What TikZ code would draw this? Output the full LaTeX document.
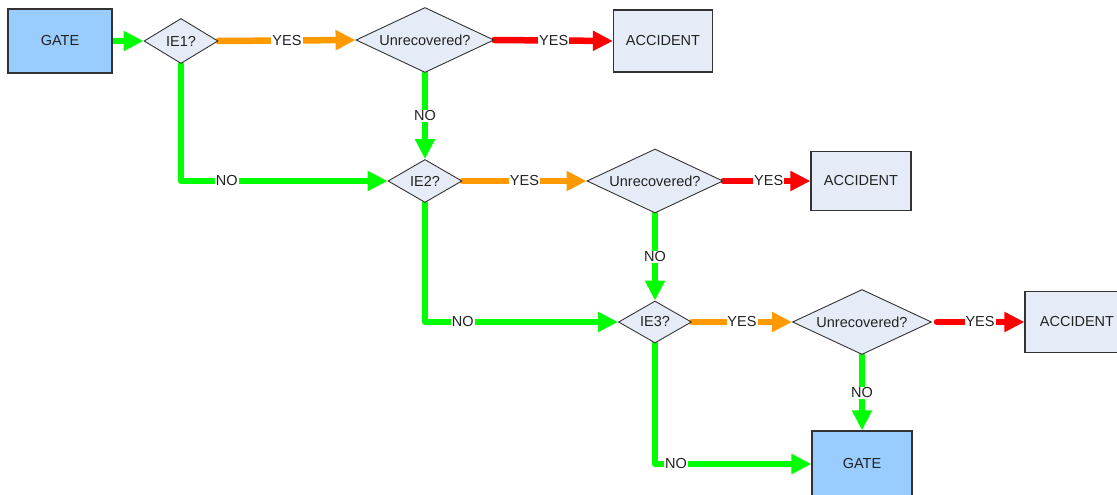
\documentclass[tikz,border=0pt]{standalone}
\usepackage{fontspec}
\setmainfont{Liberation Sans}
\usetikzlibrary{shapes.geometric,arrows.meta,backgrounds}
\definecolor{boxline}{HTML}{333333}
\definecolor{gatefill}{HTML}{99CCFF}
\definecolor{qfill}{HTML}{E6ECF7}
\definecolor{gogreen}{HTML}{00FF00}
\definecolor{warnorange}{HTML}{FF9900}
\definecolor{stopred}{HTML}{FF0000}
\definecolor{ink}{HTML}{222222}
\begin{document}
\begin{tikzpicture}[x=1pt,y=-1pt,
  font=\fontsize{14.5}{16}\selectfont,
  every node/.style={text=ink},
  gatebox/.style={draw=boxline,line width=1.2pt,fill=gatefill,inner sep=0pt},
  accbox/.style={draw=boxline,line width=1.2pt,fill=qfill,inner sep=0pt},
  question/.style={diamond,draw=boxline,line width=0.9pt,fill=qfill,inner sep=0pt,aspect=2},
  flow/.style={line width=6.5pt,line cap=round,line join=round,-{Triangle[length=20pt,width=19pt]}},
  nopath/.style={flow,draw=gogreen},
  yespath/.style={flow,draw=warnorange},
  failpath/.style={flow,draw=stopred},
  tag/.style={fill=white,inner sep=1pt}
]
\useasboundingbox (0,0) rectangle (1117,495);
\clip (0,0) rectangle (1117,495);

% entry gate
\node[gatebox,minimum width=104pt,minimum height=64pt] (gate1) at (60,41) {GATE};

% first initiating event and its recovery check
\node[question,minimum width=74pt,minimum height=45pt] (ie1) at (181,41) {IE1?};
\node[question,minimum width=138pt,minimum height=65pt] (un1) at (425,40) {Unrecovered?};
\node[accbox,minimum width=99pt,minimum height=62pt] (acc1) at (663,41) {ACCIDENT};

% second initiating event
\node[question,minimum width=74pt,minimum height=43pt] (ie2) at (425,181) {IE2?};
\node[question,minimum width=136pt,minimum height=64pt] (un2) at (655,181) {Unrecovered?};
\node[accbox,minimum width=100pt,minimum height=59pt] (acc2) at (861,181) {ACCIDENT};

% third initiating event
\node[question,minimum width=73pt,minimum height=42pt] (ie3) at (655,322) {IE3?};
\node[question,minimum width=139pt,minimum height=65pt] (un3) at (862,322) {Unrecovered?};
\node[accbox,minimum width=104pt,minimum height=61pt] (acc3) at (1077,322) {ACCIDENT};

% exit gate
\node[gatebox,minimum width=100pt,minimum height=66pt] (gate2) at (862,464) {GATE};

\begin{scope}[on background layer]
  \draw[nopath] (gate1.east) -- (ie1.west);

  \draw[yespath] (ie1.east) -- node[tag] {YES} (un1.west);
  \draw[failpath] (un1.east) -- node[tag] {YES} (acc1.west);
  \draw[nopath] (un1.south) -- node[tag] {NO} (ie2.north);
  \draw[nopath] (ie1.south) |- node[tag,pos=0.611] {NO} (ie2.west);

  \draw[yespath] (ie2.east) -- node[tag] {YES} (un2.west);
  \draw[failpath] (un2.east) -- node[tag,pos=0.52] {YES} (acc2.west);
  \draw[nopath] (un2.south) -- node[tag] {NO} (ie3.north);
  \draw[nopath] (ie2.south) |- node[tag,pos=0.598] {NO} (ie3.west);

  \draw[yespath] (ie3.east) -- node[tag] {YES} (un3.west);
  \draw[failpath,shorten <=5pt] (un3.east) -- node[tag,pos=0.52] {YES} (acc3.west);
  \draw[nopath] (un3.south) -- node[tag] {NO} (gate2.north);
  \draw[nopath] (ie3.south) |- node[tag,pos=0.567] {NO} (gate2.west);
\end{scope}
\end{tikzpicture}
\end{document}
